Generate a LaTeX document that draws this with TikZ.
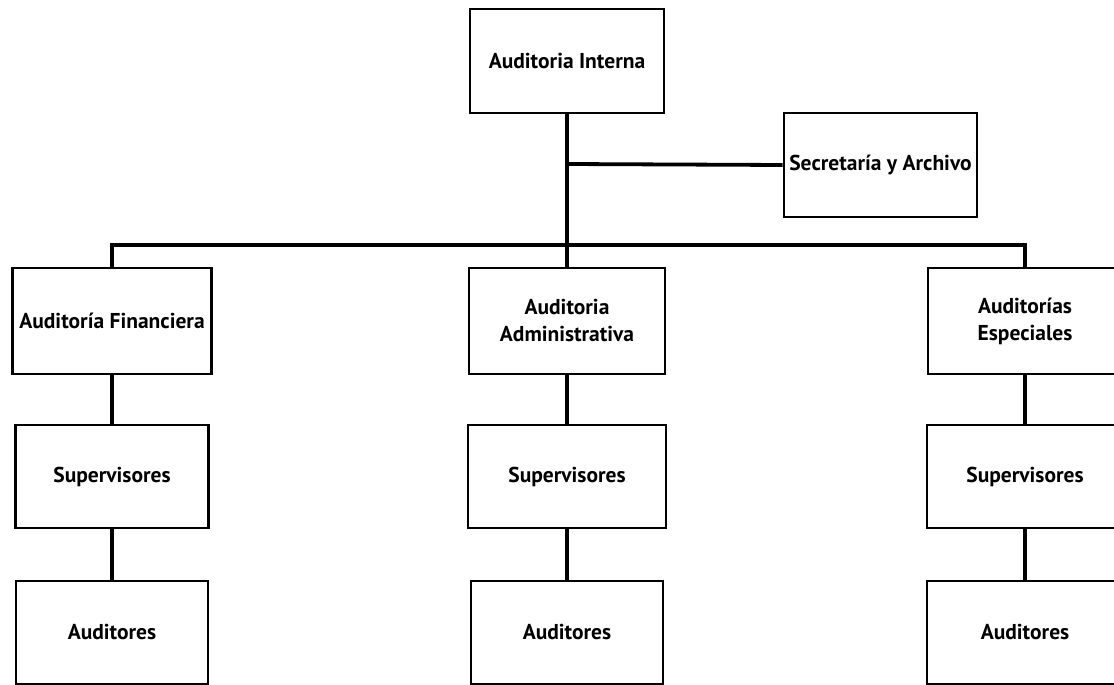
\documentclass[tikz,border=0pt]{standalone}
\usepackage{fontspec}
\setmainfont{PT Sans}
\begin{document}
\begin{tikzpicture}[x=1pt,y=-1pt,
  unit/.style={draw=black, line width=2.8pt, fill=white, align=center,
    inner sep=1pt, font=\bfseries\fontsize{21.5}{27}\selectfont,
    minimum height=104pt},
  link/.style={draw=black, line width=3.8pt}]
\useasboundingbox (0,0) rectangle (1114,685);
\clip (0,0) rectangle (1114,685);

% top level and staff unit
\node[unit, minimum width=194pt] (ai) at (567,61) {Auditoria Interna};
\node[unit, minimum width=193pt] (sec) at (880.5,165) {Secretaría y Archivo};

% audit areas
\node[unit, minimum width=199pt, minimum height=106pt] (af) at (112,321) {Auditoría Financiera};
\node[unit, minimum width=196pt, minimum height=106pt] (aa) at (567,321) {Auditoria\\Administrativa};
\node[unit, minimum width=194pt, minimum height=106pt] (ae) at (1025,321) {Auditorías\\Especiales};

% supervisors
\node[unit, minimum width=193pt, minimum height=103pt] (s1) at (112,476.5) {Supervisores};
\node[unit, minimum width=198pt, minimum height=103pt] (s2) at (567,476.5) {Supervisores};
\node[unit, minimum width=196pt, minimum height=103pt] (s3) at (1025,476.5) {Supervisores};

% auditors
\node[unit, minimum width=192pt, minimum height=103pt] (a1) at (112,632.5) {Auditores};
\node[unit, minimum width=192pt, minimum height=103pt] (a2) at (567,632.5) {Auditores};
\node[unit, minimum width=196pt, minimum height=103pt] (a3) at (1025,632.5) {Auditores};

% trunk junctions
\coordinate (j1) at (567,164);
\coordinate (j2) at (567,245);

\draw[link] (ai.south) -- (j2);
\draw[link] (j1) -- (sec.west);
\draw[link] (af.north) |- (j2);
\draw[link] (ae.north) |- (j2);
\draw[link] (aa.north) -- (j2);

\draw[link] (af) -- (s1);
\draw[link] (s1) -- (a1);
\draw[link] (aa) -- (s2);
\draw[link] (s2) -- (a2);
\draw[link] (ae) -- (s3);
\draw[link] (s3) -- (a3);
\end{tikzpicture}
\end{document}
